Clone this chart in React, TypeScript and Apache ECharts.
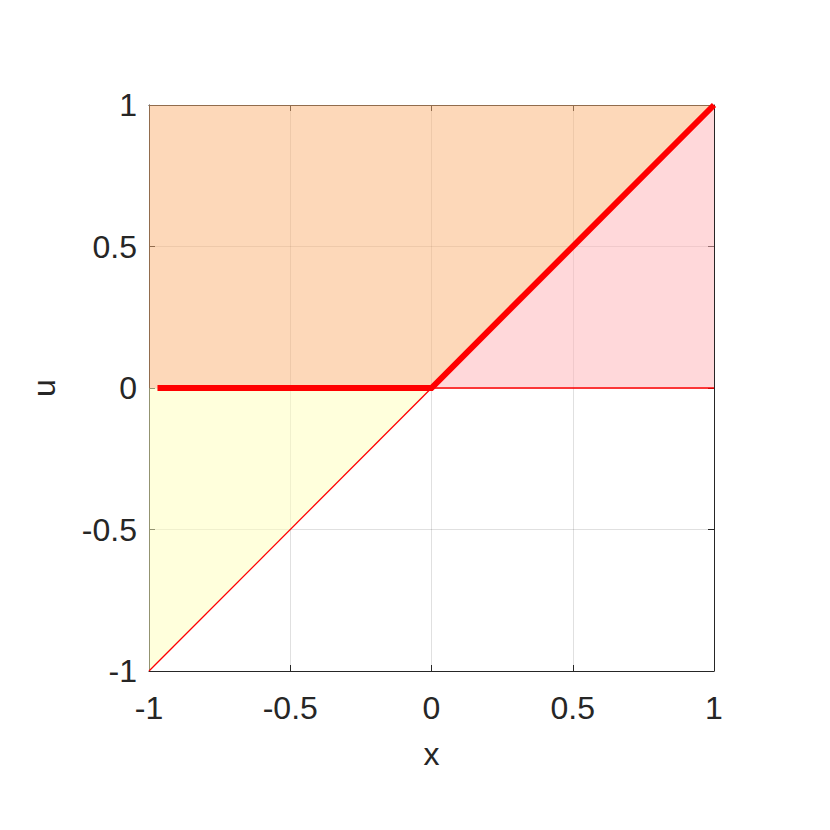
import React, { useEffect, useRef } from "react";
import * as echarts from "echarts";

const ticks = [-1, -0.5, 0, 0.5, 1];
// regions: epigraph of max(x,0) (orange), positive part (pink), negative part (yellow)
const regionOrange = [[-1, 0], [0, 0], [1, 1], [-1, 1]];
const regionPink = [[0, 0], [1, 0], [1, 1]];
const regionYellow = [[-1, -1], [0, 0], [-1, 0]];
const regions = [regionOrange, regionPink, regionYellow];
const regionColors = ["rgba(251,177,115,0.5)", "rgba(255,177,181,0.5)", "rgba(255,255,185,0.5)"];
const thinDiag = [[-1, -1], [0, 0]];
const thinZero = [[0, 0], [1, 0]];
const thickRelu = [[-0.97, 0], [0, 0], [1, 1]];

export default function App() {
  const ref = useRef<HTMLDivElement>(null);
  useEffect(() => {
    const chart = echarts.init(ref.current!, null, { renderer: "svg" });
    const font = "Liberation Sans";
    const axisCommon = {
      type: "value",
      min: ticks[0],
      max: ticks[ticks.length - 1],
      interval: 0.5,
      axisLine: { show: true, onZero: false, lineStyle: { color: "#262626", width: 1 } },
      axisTick: { show: true, inside: true, length: 6, lineStyle: { color: "#262626" } },
    };
    chart.setOption({
      animation: false,
      backgroundColor: "#ffffff",
      grid: { left: 149, top: 105, width: 565, height: 566, containLabel: false },
      xAxis: [
        {
          ...axisCommon,
          position: "bottom",
          name: "x",
          nameLocation: "middle",
          nameGap: 67,
          nameTextStyle: { fontFamily: font, fontSize: 32, color: "#262626" },
          axisLabel: {
            fontFamily: font,
            fontSize: 32,
            color: "#262626",
            margin: 21,
            formatter: (v: number) => String(v),
          },
          splitLine: { show: true, lineStyle: { color: "rgba(0,0,0,0.12)", width: 1 } },
        },
        {
          ...axisCommon,
          position: "top",
          axisLabel: { show: false },
          splitLine: { show: false },
        },
      ],
      yAxis: [
        {
          ...axisCommon,
          position: "left",
          name: "u",
          nameLocation: "middle",
          nameRotate: 90,
          nameGap: 89,
          nameTextStyle: { fontFamily: font, fontSize: 32, color: "#262626" },
          axisLabel: {
            fontFamily: font,
            fontSize: 32,
            color: "#262626",
            margin: 12,
            formatter: (v: number) => String(v),
          },
          splitLine: { show: true, lineStyle: { color: "rgba(0,0,0,0.12)", width: 1 } },
        },
        {
          ...axisCommon,
          position: "right",
          axisLabel: { show: false },
          splitLine: { show: false },
        },
      ],
      series: [
        {
          type: "custom",
          xAxisIndex: 0,
          yAxisIndex: 0,
          data: regions.map((_, i) => [i]),
          encode: { x: -1, y: -1 },
          renderItem: (params: any, api: any) => {
            const poly = regions[params.dataIndex];
            const points = poly.map((p) => api.coord(p));
            return {
              type: "polygon",
              shape: { points },
              style: { fill: regionColors[params.dataIndex], stroke: "none", lineWidth: 0 },
              silent: true,
            };
          },
          z: 1,
        },
        {
          type: "line",
          data: thinDiag,
          symbol: "none",
          lineStyle: { color: "#ff0000", width: 1.3 },
          z: 3,
        },
        {
          type: "line",
          data: thinZero,
          symbol: "none",
          lineStyle: { color: "#ff0000", width: 1.3 },
          z: 3,
        },
        {
          type: "line",
          data: thickRelu,
          symbol: "none",
          lineStyle: { color: "#ff0000", width: 6, join: "miter" },
          z: 4,
        },
      ],
    });
    return () => chart.dispose();
  }, []);
  return (
    <div
      ref={ref}
      style={{ position: "fixed", left: 0, top: 0, width: 830, height: 830 }}
    />
  );
}
